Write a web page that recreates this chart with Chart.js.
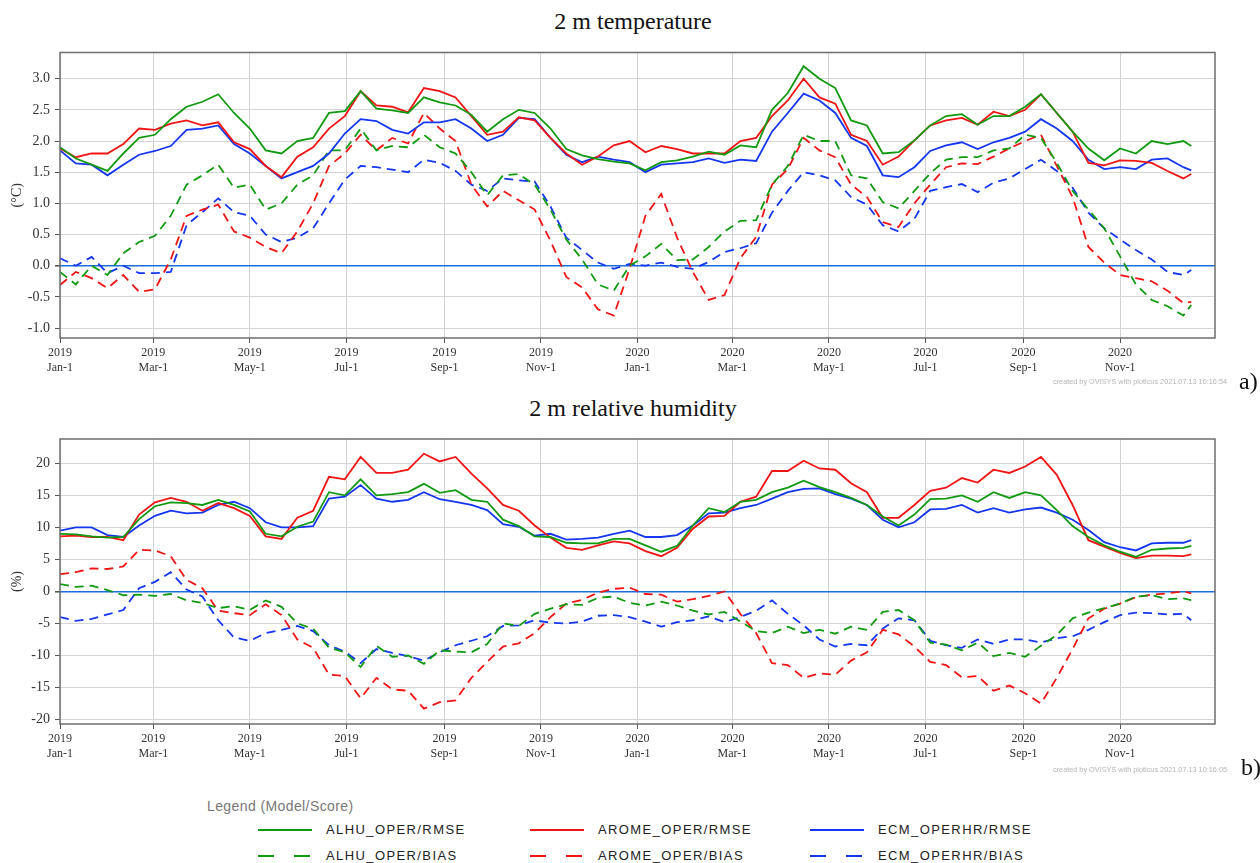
<!DOCTYPE html>
<html>
<head>
<meta charset="utf-8">
<script src="https://cdn.jsdelivr.net/npm/chart.js@4.4.0/dist/chart.umd.min.js"></script>
<style>
body{margin:0;background:#fff;width:1260px;height:863px;position:relative;overflow:hidden;font-family:'Liberation Serif',serif}
.cv{position:absolute;left:0;width:1260px;height:390px}
.title{position:absolute;left:0;width:1266px;text-align:center;font-size:24px;line-height:1;color:#111}
.tag{position:absolute;font-size:24px;line-height:1;color:#111}
.made{position:absolute;left:1053px;font-family:'Liberation Sans',sans-serif;font-size:7.3px;color:#b5b5b5;white-space:nowrap}
.lg{position:absolute;font-family:'Liberation Sans',sans-serif;font-size:13px;letter-spacing:1.4px;color:#222;white-space:nowrap;line-height:1}
.lgt{color:#777;letter-spacing:0.4px;font-size:14px}
svg.smp{position:absolute}
</style>
</head>
<body>
<div class="title" style="top:9px">2 m temperature</div>
<div class="title" style="top:396px">2 m relative humidity</div>
<div class="cv" style="top:0"><canvas id="tempChart" width="1260" height="390"></canvas></div>
<div class="cv" style="top:390px"><canvas id="rhChart" width="1260" height="390"></canvas></div>
<div class="tag" style="left:1239px;top:369px">a)</div>
<div class="tag" style="left:1241px;top:755px">b)</div>
<div class="made" style="top:377px">created by OVISYS with ploticus 2021.07.13 10:16:54</div>
<div class="made" style="top:765px">created by OVISYS with ploticus 2021.07.13 10:16:05</div>
<div id="legend"></div>

<script>
// days since 2019 Jan-1, every 10 days (last point = mid Dec 2020)
const days = [0,10,20,30,40,50,60,70,80,90,100,110,120,130,140,150,160,170,180,190,200,210,220,230,240,
  250,260,270,280,290,300,310,320,330,340,350,360,370,380,390,400,410,420,430,440,450,460,470,480,490,
  500,510,520,530,540,550,560,570,580,590,600,610,620,630,640,650,660,670,680,690,700,710,715];

const xTickDays = [0,59,120,181,243,304,365,425,486,547,609,670];
const xTickLabels = [['2019','Jan-1'],['2019','Mar-1'],['2019','May-1'],['2019','Jul-1'],['2019','Sep-1'],['2019','Nov-1'],
  ['2020','Jan-1'],['2020','Mar-1'],['2020','May-1'],['2020','Jul-1'],['2020','Sep-1'],['2020','Nov-1']];

const tempTicks = [-1.0,-0.5,0.0,0.5,1.0,1.5,2.0,2.5,3.0];
const rhTicks = [-20,-15,-10,-5,0,5,10,15,20];

// 2 m temperature (°C)
const tempAlhuRmse = [1.9,1.72,1.62,1.52,1.8,2.05,2.1,2.35,2.55,2.63,2.75,2.45,2.2,1.85,1.8,2.0,2.05,2.45,2.48,2.8,2.52,2.49,2.45,2.7,2.62,
  2.57,2.42,2.15,2.35,2.5,2.45,2.2,1.87,1.77,1.71,1.67,1.64,1.53,1.66,1.69,1.75,1.83,1.78,1.93,1.9,2.5,2.77,3.2,
  3.0,2.85,2.33,2.25,1.8,1.82,2.01,2.25,2.4,2.43,2.26,2.4,2.4,2.55,2.75,2.45,2.15,1.88,1.69,1.88,1.8,2.0,1.95,2.0,1.92];
const tempAromeRmse = [1.88,1.74,1.8,1.8,1.95,2.2,2.18,2.28,2.33,2.25,2.3,1.98,1.87,1.6,1.42,1.75,1.9,2.2,2.4,2.8,2.57,2.55,2.46,2.85,2.8,
  2.7,2.4,2.1,2.15,2.38,2.33,2.05,1.8,1.62,1.75,1.93,2.0,1.82,1.92,1.87,1.8,1.8,1.8,2.0,2.05,2.4,2.65,3.0,
  2.7,2.6,2.1,2.0,1.62,1.75,2.01,2.25,2.33,2.37,2.26,2.47,2.4,2.5,2.75,2.45,2.15,1.65,1.61,1.69,1.68,1.65,1.52,1.4,1.47];
const tempEcmRmse = [1.85,1.64,1.62,1.45,1.62,1.78,1.84,1.92,2.18,2.2,2.25,1.95,1.8,1.6,1.4,1.5,1.6,1.8,2.12,2.35,2.32,2.18,2.12,2.3,2.3,
  2.35,2.2,2.0,2.1,2.37,2.35,2.05,1.78,1.66,1.75,1.7,1.66,1.5,1.62,1.64,1.66,1.72,1.65,1.7,1.68,2.15,2.45,2.76,
  2.65,2.45,2.05,1.92,1.45,1.42,1.58,1.84,1.93,1.98,1.87,1.98,2.05,2.15,2.35,2.2,2.0,1.7,1.55,1.58,1.55,1.7,1.72,1.58,1.53];
const tempAlhuBias = [-0.1,-0.3,0.0,-0.15,0.2,0.38,0.48,0.8,1.3,1.45,1.62,1.25,1.3,0.9,1.0,1.3,1.45,1.85,1.85,2.2,1.85,1.92,1.9,2.1,
  1.9,1.8,1.5,1.13,1.45,1.47,1.3,0.9,0.42,0.1,-0.3,-0.4,0.0,0.15,0.35,0.09,0.1,0.3,0.55,0.72,0.73,1.3,1.6,2.1,2.0,2.0,
  1.45,1.4,1.02,0.92,1.2,1.48,1.7,1.74,1.74,1.85,1.88,2.1,2.05,1.65,1.2,0.9,0.6,0.15,-0.3,-0.55,-0.65,-0.8,-0.63];
const tempAromeBias = [-0.31,-0.1,-0.2,-0.36,-0.15,-0.42,-0.38,0.1,0.8,0.9,0.98,0.55,0.45,0.3,0.2,0.55,1.0,1.6,1.8,2.1,1.85,2.05,1.96,2.45,
  2.2,2.0,1.3,0.95,1.2,1.05,0.9,0.4,-0.18,-0.35,-0.7,-0.8,-0.05,0.8,1.15,0.45,-0.1,-0.55,-0.47,0.12,0.46,1.3,1.55,2.05,1.85,1.74,
  1.3,1.1,0.7,0.62,1.0,1.3,1.58,1.64,1.63,1.75,1.88,2.0,2.1,1.6,1.1,0.3,0.05,-0.15,-0.2,-0.25,-0.4,-0.6,-0.58];
const tempEcmBias = [0.12,0.0,0.14,-0.12,0.0,-0.12,-0.12,-0.1,0.65,0.86,1.08,0.86,0.8,0.5,0.38,0.45,0.6,1.0,1.38,1.6,1.58,1.54,1.5,1.7,
  1.65,1.52,1.3,1.2,1.4,1.37,1.35,0.95,0.45,0.25,0.05,-0.05,0.03,0.0,0.05,-0.02,-0.05,0.06,0.22,0.28,0.36,0.85,1.2,1.5,1.45,1.37,
  1.1,0.98,0.65,0.55,0.75,1.2,1.26,1.31,1.18,1.33,1.4,1.55,1.7,1.52,1.25,0.85,0.6,0.42,0.25,0.1,-0.1,-0.15,-0.07];

// 2 m relative humidity (%)
const rhAlhuRmse = [9.0,8.9,8.6,8.4,8.5,11.3,13.3,13.9,13.8,13.5,14.3,13.5,12.5,9.0,8.6,10.1,10.9,15.5,15.0,17.5,15.0,15.2,15.5,16.8,15.4,
  15.8,14.3,14.0,11.2,10.2,8.6,8.5,7.6,7.5,7.5,8.2,8.2,7.2,6.2,7.1,10.3,13.0,12.4,14.0,14.3,15.5,16.2,17.3,16.3,15.5,
  14.6,13.5,11.7,10.3,12.0,14.4,14.5,15.0,14.0,15.5,14.6,15.5,15.0,12.7,10.2,8.5,7.2,6.2,5.4,6.5,6.7,6.8,7.1];
const rhAromeRmse = [8.6,8.7,8.5,8.5,8.0,12.0,13.9,14.6,14.0,12.6,13.8,13.0,11.8,8.6,8.2,11.5,12.6,17.9,17.5,21.0,18.5,18.5,19.0,21.5,20.3,
  21.0,18.4,16.1,13.5,12.6,10.3,8.4,6.8,6.5,7.2,7.8,7.5,6.3,5.5,6.8,9.8,11.7,11.8,14.0,14.8,18.8,18.8,20.4,19.2,19.0,
  16.9,15.5,11.5,11.5,13.5,15.7,16.2,17.7,17.0,19.0,18.5,19.5,21.0,18.2,13.5,8.0,7.0,6.0,5.2,5.6,5.6,5.5,5.8];
const rhEcmRmse = [9.5,10.0,10.0,8.8,8.5,10.3,11.8,12.6,12.2,12.3,13.5,14.0,13.0,10.8,10.0,10.0,10.2,14.5,14.8,16.6,14.5,14.0,14.3,15.5,14.4,
  14.0,13.5,12.7,10.5,10.1,8.7,9.0,8.1,8.2,8.4,9.0,9.5,8.5,8.5,8.8,10.3,12.2,12.3,13.0,13.5,14.5,15.5,16.0,16.1,15.2,
  14.5,13.5,11.2,10.0,10.8,12.8,12.9,13.5,12.3,13.0,12.3,12.8,13.1,12.3,11.2,9.6,7.7,6.9,6.4,7.5,7.6,7.6,8.0];
const rhAlhuBias = [1.15,0.7,0.9,0.2,-0.6,-0.5,-0.7,-0.4,-1.4,-1.8,-2.6,-2.3,-2.9,-1.4,-2.4,-5.0,-5.8,-8.8,-9.5,-11.8,-8.5,-10.2,-10.0,-11.3,-9.2,
  -9.4,-9.5,-8.2,-5.0,-5.4,-3.5,-2.7,-2.0,-2.1,-1.0,-0.8,-1.8,-2.2,-1.6,-2.2,-3.0,-3.6,-3.2,-4.7,-6.2,-6.5,-5.5,-6.5,-6.0,-6.6,
  -5.5,-6.0,-3.2,-2.9,-4.5,-8.0,-8.3,-9.2,-8.0,-10.1,-9.6,-10.2,-8.5,-6.8,-4.2,-3.3,-2.6,-1.9,-0.8,-0.6,-1.2,-1.1,-1.35];
const rhAromeBias = [2.7,3.0,3.6,3.5,3.9,6.5,6.4,5.5,1.8,0.5,-3.0,-3.4,-3.7,-2.0,-3.7,-7.5,-8.8,-13.0,-13.2,-16.7,-13.5,-15.3,-15.5,-18.3,-17.3,
  -17.0,-13.5,-11.0,-8.6,-8.1,-6.5,-4.0,-1.9,-1.3,-0.2,0.4,0.6,-0.4,-0.5,-1.6,-1.2,-0.7,0.0,-3.5,-6.5,-11.2,-11.5,-13.5,-12.8,-13.0,
  -10.8,-9.5,-6.0,-6.7,-8.6,-11.0,-11.5,-13.4,-13.2,-15.5,-14.7,-15.9,-17.5,-13.5,-9.0,-4.2,-2.7,-1.9,-0.9,-0.5,-0.3,0.0,-0.3];
const rhEcmBias = [-4.0,-4.6,-4.3,-3.6,-2.9,0.5,1.5,3.0,0.3,-0.8,-4.5,-7.2,-7.7,-6.5,-6.0,-5.4,-6.2,-8.4,-9.4,-11.2,-9.0,-9.6,-10.1,-10.8,-9.5,
  -8.4,-7.7,-7.0,-5.4,-5.3,-4.5,-4.9,-5.0,-4.7,-3.8,-3.7,-4.0,-4.7,-5.5,-4.8,-4.5,-3.9,-4.8,-4.0,-3.0,-1.4,-3.5,-5.3,-7.5,-8.6,
  -8.2,-8.4,-5.8,-4.2,-4.5,-7.7,-8.4,-8.8,-7.5,-8.2,-7.5,-7.5,-8.0,-7.3,-7.0,-6.0,-4.8,-3.7,-3.3,-3.4,-3.6,-3.5,-4.5];

const GREEN = '#119a11', RED = '#f01414', BLUE = '#1436f0';
const DASH = [9, 6];

const seriesNames = ['ALHU_OPER/RMSE','AROME_OPER/RMSE','ECM_OPERHR/RMSE','ALHU_OPER/BIAS','AROME_OPER/BIAS','ECM_OPERHR/BIAS'];
const seriesColors = [GREEN, RED, BLUE, GREEN, RED, BLUE];

function pts(arr){
  return days.map((d, i) => ({x: d, y: arr[i]}));
}

function makeSets(list){
  return list.map((arr, i) => ({
    label: seriesNames[i],
    data: pts(arr),
    borderColor: seriesColors[i],
    borderWidth: 1.8,
    borderDash: i >= 3 ? DASH : [],
    pointRadius: 0,
    tension: 0,
    fill: false
  }));
}

// box round the plot area
const frame = {
  id: 'frame',
  afterDraw(chart){
    const a = chart.chartArea, c = chart.ctx;
    c.save();
    c.strokeStyle = '#6e6e6e';
    c.lineWidth = 1.5;
    c.strokeRect(a.left, a.top, a.right - a.left, a.bottom - a.top);
    c.restore();
  }
};

Chart.defaults.font.family = "'Liberation Serif', serif";
Chart.defaults.color = '#333';

function makeChart(id, sets, yMin, yMax, yTicks, yTitle, fmt, padTop, xAxisH){
  return new Chart(document.getElementById(id).getContext('2d'), {
    type: 'line',
    data: {datasets: makeSets(sets)},
    plugins: [frame],
    options: {
      responsive: false,
      animation: false,
      layout: {padding: {top: padTop, right: 45, left: 0, bottom: 0}},
      plugins: {legend: {display: false}, tooltip: {enabled: false}},
      scales: {
        x: {
          type: 'linear', min: 0, max: 730,
          afterBuildTicks: ax => { ax.ticks = xTickDays.map(v => ({value: v})); },
          afterFit: ax => { ax.height = xAxisH; },
          ticks: {
            autoSkip: false, maxRotation: 0, padding: 2,
            font: {size: 12, lineHeight: 1.25},
            color: '#333',
            callback: (v, i) => xTickLabels[i]
          },
          grid: {color: '#d2d2d2', lineWidth: 1, tickLength: 5, tickColor: '#555'},
          border: {display: false}
        },
        y: {
          min: yMin, max: yMax,
          afterBuildTicks: ax => { ax.ticks = yTicks.map(v => ({value: v})); },
          afterFit: ax => { ax.width = 60; },
          ticks: {padding: 5, font: {size: 14}, color: '#333', callback: v => fmt(v)},
          grid: {
            color: c => c.tick && c.tick.value === 0 ? '#1b6fd8' : '#d6d6d6',
            lineWidth: c => c.tick && c.tick.value === 0 ? 1.6 : 1,
            tickLength: 5, tickColor: '#555'
          },
          border: {display: false},
          title: {display: true, text: yTitle, font: {size: 14}, color: '#333', padding: {top: 9, bottom: 0}}
        }
      }
    }
  });
}

makeChart('tempChart', [tempAlhuRmse, tempAromeRmse, tempEcmRmse, tempAlhuBias, tempAromeBias, tempEcmBias],
  -1.16, 3.42, tempTicks, '(°C)', v => Number(v).toFixed(1), 52.5, 52);
makeChart('rhChart', [rhAlhuRmse, rhAromeRmse, rhEcmRmse, rhAlhuBias, rhAromeBias, rhEcmBias],
  -20.7, 23.8, rhTicks, '(%)', v => String(v), 49, 56);

// legend below the charts
const legendCols = [258, 530, 810];
const legendRows = [830, 856];
let html = '<div class="lg lgt" style="left:207px;top:799px">Legend (Model/Score)</div>';
seriesNames.forEach((name, i) => {
  const col = legendCols[i % 3], row = legendRows[Math.floor(i / 3)];
  const dash = i >= 3 ? 'stroke-dasharray="16 20"' : '';
  html += '<svg class="smp" width="56" height="6" style="left:' + col + 'px;top:' + (row - 3) + 'px">' +
    '<line x1="0" y1="3" x2="54" y2="3" stroke="' + seriesColors[i] + '" stroke-width="2.2" ' + dash + '/></svg>';
  html += '<div class="lg" style="left:' + (col + 68) + 'px;top:' + (row - 7) + 'px">' + name + '</div>';
});
document.getElementById('legend').innerHTML = html;
</script>
</body>
</html>
